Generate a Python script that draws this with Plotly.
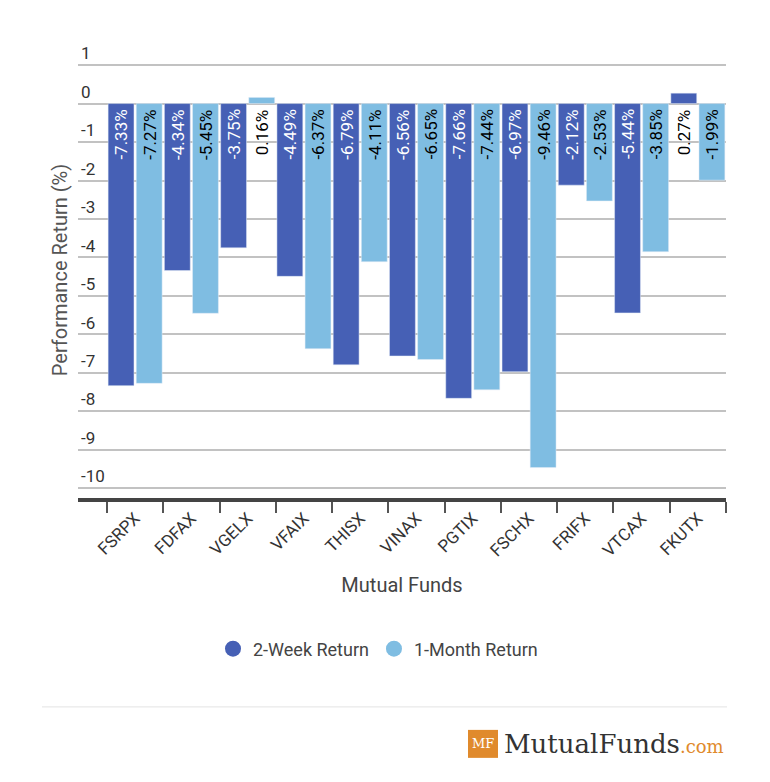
import plotly.graph_objects as go

funds = ["FSRPX", "FDFAX", "VGELX", "VFAIX", "THISX", "VINAX", "PGTIX", "FSCHX", "FRIFX", "VTCAX", "FKUTX"]
two_week = [-7.33, -4.34, -3.75, -4.49, -6.79, -6.56, -7.66, -6.97, -2.12, -5.44, 0.27]
one_month = [-7.27, -5.45, 0.16, -6.37, -4.11, -6.65, -7.44, -9.46, -2.53, -3.85, -1.99]
y_ticks = [1, 0, -1, -2, -3, -4, -5, -6, -7, -8, -9, -10]

DARK = "#4660b5"
LIGHT = "#7fbde2"
FONT = "Roboto"

fig = go.Figure()
fig.add_trace(go.Bar(x=funds, y=two_week, name="2-Week Return", marker_color=DARK, showlegend=False))
fig.add_trace(go.Bar(x=funds, y=one_month, name="1-Month Return", marker_color=LIGHT, showlegend=False))
# legend entries with circle markers
fig.add_trace(go.Scatter(x=[None], y=[None], mode="markers", name="2-Week Return",
                         marker=dict(color=DARK, size=22, symbol="circle")))
fig.add_trace(go.Scatter(x=[None], y=[None], mode="markers", name="1-Month Return",
                         marker=dict(color=LIGHT, size=22, symbol="circle")))

W, H = 770, 782
Y_LO, Y_HI = -10.25, 1.6
ML, MR, MB = 78, 44, 284
unit = 38.5
ph = (Y_HI - Y_LO) * unit
MT = H - MB - ph
pw = W - ML - MR
cat_w = pw / 11.515
shift = cat_w / 4

annotations = []
for i, f in enumerate(funds):
    for v, s, dark in ((two_week[i], -shift, True), (one_month[i], shift, False)):
        col = "white" if (dark and v < 0) else "black"
        annotations.append(dict(x=f, y=0, xref="x", yref="y", text=f"{v:.2f}%", textangle=-90,
                                showarrow=False, yanchor="top", xanchor="center", xshift=s, yshift=-4,
                                font=dict(family=FONT, size=17, color=col)))

def px_x(p):
    return (p - ML) / pw

def px_y(p):
    return (H - MB - p) / ph

# logo
annotations.append(dict(xref="paper", yref="paper", x=px_x(483), y=px_y(744), text="MF", showarrow=False,
                        xanchor="center", yanchor="middle",
                        font=dict(family="DejaVu Serif", size=13, color="white")))
annotations.append(dict(xref="paper", yref="paper", x=px_x(502), y=px_y(744), showarrow=False,
                        text="MutualFunds<span style='font-size:18px;color:#e08a2c'>.com</span>",
                        xanchor="left", yanchor="middle",
                        font=dict(family="DejaVu Serif", size=26, color="#333333")))

shapes = [
    dict(type="line", xref="paper", yref="paper", x0=px_x(42), x1=px_x(727), y0=px_y(707), y1=px_y(707),
         line=dict(color="#e3e3e3", width=1)),
    dict(type="rect", xref="paper", yref="paper", x0=px_x(468), x1=px_x(498), y0=px_y(758), y1=px_y(730),
         fillcolor="#e08a2c", line=dict(width=0)),
]

fig.update_layout(
    width=W, height=H,
    margin=dict(l=ML, r=MR, t=MT, b=MB),
    paper_bgcolor="white", plot_bgcolor="white",
    barmode="group", bargap=0.0, bargroupgap=0.08,
    font=dict(family=FONT, color="#333333"),
    showlegend=True,
    legend=dict(orientation="h", x=px_x(378), y=px_y(649), xanchor="center", yanchor="middle",
                font=dict(family=FONT, size=18, color="#444444")),
    annotations=annotations,
    shapes=shapes,
)
fig.update_xaxes(
    type="category", range=[-1.015, 10.5], tickson="boundaries", ticks="outside", ticklen=11,
    tickwidth=1.5, tickcolor="#555555", tickangle=-45, tickfont=dict(family=FONT, size=17, color="#333333"),
    showline=True, linecolor="#444444", linewidth=3.5, showgrid=False,
    title=dict(text="Mutual Funds", standoff=20, font=dict(family=FONT, size=20, color="#444444")),
    automargin=False,
)
fig.update_yaxes(
    range=[Y_LO, Y_HI], tickvals=y_ticks, ticktext=[str(t) for t in y_ticks],
    ticklabelposition="inside top", ticks="", showgrid=True, gridcolor="#c2c2c2", gridwidth=1.5,
    zeroline=False, showline=False, tickfont=dict(family=FONT, size=17, color="#333333"),
    title=dict(text="Performance Return (%)", standoff=8, font=dict(family=FONT, size=20, color="#555555")),
    automargin=False,
)

fig.write_html("out.html", config={"displayModeBar": False},
               post_script="document.body.style.margin='0px';")
